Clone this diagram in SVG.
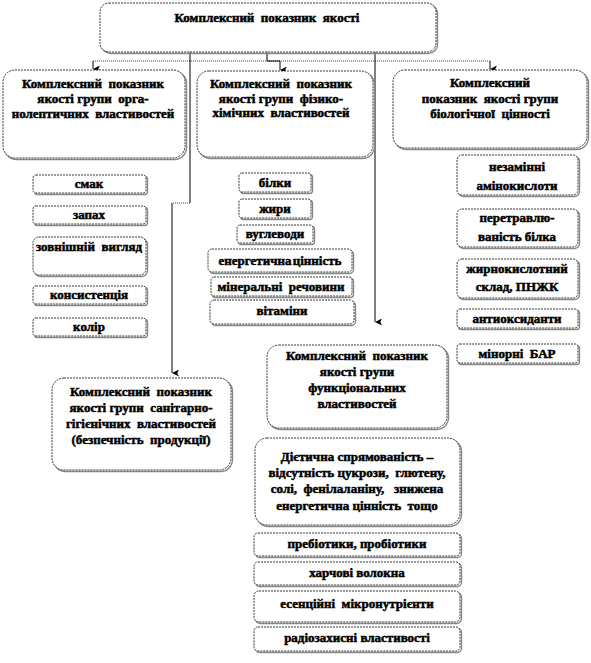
<svg xmlns="http://www.w3.org/2000/svg" width="591" height="663" viewBox="0 0 591 663">
<style>
.bx{fill:#fff;stroke:#222;stroke-width:0.9;stroke-dasharray:2 1}
.sh{fill:none;stroke:#888;stroke-width:1.4}
.t{font-family:"Liberation Serif","DejaVu Serif","Times New Roman",serif;font-weight:700;font-size:13px;fill:#000;stroke:#000;stroke-width:0.5;text-anchor:middle;white-space:pre}
.ln{fill:none;stroke:#000;stroke-width:1}
.dl{fill:none;stroke:#444;stroke-width:1;stroke-dasharray:1 1}
</style>
<defs>
<marker id="ar" viewBox="0 0 8 8" refX="4" refY="8" markerWidth="7" markerHeight="7" orient="auto-start-reverse" markerUnits="userSpaceOnUse">
<path d="M0,0 L4,2 L8,0 L4,8 Z" fill="#000"/>
</marker>
</defs>
<rect width="591" height="663" fill="#fff"/>
<g id="connectors">
<path class="dl" d="M93,61 H490"/>
<path class="ln" d="M93,61 V69" marker-end="url(#ar)"/>
<path class="ln" d="M267,52 V61 H280 V70" marker-end="url(#ar)"/>
<path class="ln" d="M490,61 V69" marker-end="url(#ar)"/>
<path class="ln" d="M190,52 V203"/>
<path class="dl" d="M190,203 H172"/>
<path class="ln" d="M172,203 V373" marker-end="url(#ar)"/>
<path class="ln" d="M375,52 V322" marker-end="url(#ar)"/>
</g>
<g id="main">
<rect class="sh" x="101.5" y="4.5" width="336" height="49" rx="9"/>
<rect class="bx" x="100" y="3" width="336" height="49" rx="9"/>
<text class="t" x="267" y="22">Комплексний  показник  якості</text>
</g>
<g id="organoleptic">
<rect class="sh" x="4.5" y="71.5" width="182" height="88" rx="12"/>
<rect class="bx" x="3" y="70" width="182" height="88" rx="12"/>
<text class="t" x="93" y="88">Комплексний  показник</text>
<text class="t" x="93" y="103">якості групи  орга-</text>
<text class="t" x="93" y="118">нолептичних  властивостей</text>
</g>
<g id="physchem">
<rect class="sh" x="198.5" y="72.5" width="176" height="86" rx="12"/>
<rect class="bx" x="197" y="71" width="176" height="86" rx="12"/>
<text class="t" x="281" y="88">Комплексний  показник</text>
<text class="t" x="281" y="103">якості групи  фізико-</text>
<text class="t" x="281" y="117">хімічних  властивостей</text>
</g>
<g id="biological">
<rect class="sh" x="394.5" y="71.5" width="194" height="78" rx="12"/>
<rect class="bx" x="393" y="70" width="194" height="78" rx="12"/>
<text class="t" x="490" y="87">Комплексний</text>
<text class="t" x="490" y="103">показник  якості групи</text>
<text class="t" x="490" y="118">біологічної  цінності</text>
</g>
<g id="smak"><rect class="sh" x="34.5" y="176.5" width="113" height="18" rx="3"/><rect class="bx" x="33" y="175" width="113" height="18" rx="3"/><text class="t" x="89" y="188">смак</text></g>
<g id="zapakh"><rect class="sh" x="34.5" y="207.5" width="113" height="18" rx="3"/><rect class="bx" x="33" y="206" width="113" height="18" rx="3"/><text class="t" x="89" y="219">запах</text></g>
<g id="vyglyad"><rect class="sh" x="34.5" y="238.5" width="113" height="38" rx="6"/><rect class="bx" x="33" y="237" width="113" height="38" rx="6"/><text class="t" x="89" y="251">зовнішній  вигляд</text></g>
<g id="konsyst"><rect class="sh" x="34.5" y="287.5" width="113" height="18" rx="3"/><rect class="bx" x="33" y="286" width="113" height="18" rx="3"/><text class="t" x="89" y="299">консистенція</text></g>
<g id="kolir"><rect class="sh" x="34.5" y="319.5" width="113" height="18" rx="3"/><rect class="bx" x="33" y="318" width="113" height="18" rx="3"/><text class="t" x="89" y="331">колір</text></g>
<g id="bilky"><rect class="sh" x="240.5" y="174.5" width="72" height="19" rx="3"/><rect class="bx" x="239" y="173" width="72" height="19" rx="3"/><text class="t" x="275" y="187">білки</text></g>
<g id="zhyry"><rect class="sh" x="240.5" y="200.5" width="72" height="19" rx="3"/><rect class="bx" x="239" y="199" width="72" height="19" rx="3"/><text class="t" x="275" y="213">жири</text></g>
<g id="vuglevody"><rect class="sh" x="238.5" y="226.5" width="76" height="18" rx="3"/><rect class="bx" x="237" y="225" width="76" height="18" rx="3"/><text class="t" x="275" y="238">вуглеводи</text></g>
<g id="energ"><rect class="sh" x="209.5" y="250.5" width="144" height="23" rx="4"/><rect class="bx" x="208" y="249" width="144" height="23" rx="4"/><text class="t" x="280" y="265" style="word-spacing:-2px">енергетична цінність</text></g>
<g id="mineral"><rect class="sh" x="212.5" y="278.5" width="141" height="19" rx="3"/><rect class="bx" x="211" y="277" width="141" height="19" rx="3"/><text class="t" x="281" y="291">мінеральні  речовини</text></g>
<g id="vitaminy"><rect class="sh" x="211.5" y="301.5" width="144" height="24" rx="4"/><rect class="bx" x="210" y="300" width="144" height="24" rx="4"/><text class="t" x="282" y="315">вітаміни</text></g>
<g id="aminoacids"><rect class="sh" x="458.5" y="156.5" width="121" height="40" rx="5"/><rect class="bx" x="457" y="155" width="121" height="40" rx="5"/><text class="t" x="517" y="171">незамінні</text><text class="t" x="517" y="190">амінокислоти</text></g>
<g id="digest"><rect class="sh" x="458.5" y="210.5" width="121" height="38" rx="5"/><rect class="bx" x="457" y="209" width="121" height="38" rx="5"/><text class="t" x="517" y="222">перетравлю-</text><text class="t" x="517" y="241">ваність білка</text></g>
<g id="fatty"><rect class="sh" x="458.5" y="260.5" width="121" height="39" rx="5"/><rect class="bx" x="457" y="259" width="121" height="39" rx="5"/><text class="t" x="517" y="273">жирнокислотний</text><text class="t" x="517" y="291">склад, ПНЖК</text></g>
<g id="antiox"><rect class="sh" x="458.5" y="310.5" width="121" height="19" rx="3"/><rect class="bx" x="457" y="309" width="121" height="19" rx="3"/><text class="t" x="517" y="323">антиоксиданти</text></g>
<g id="minor"><rect class="sh" x="458.5" y="345.5" width="121" height="19" rx="3"/><rect class="bx" x="457" y="344" width="121" height="19" rx="3"/><text class="t" x="517" y="358">мінорні  БАР</text></g>
<g id="sanitary">
<rect class="sh" x="53.5" y="379.5" width="179" height="92" rx="12"/>
<rect class="bx" x="52" y="378" width="179" height="92" rx="12"/>
<text class="t" x="141" y="396">Комплексний  показник</text>
<text class="t" x="141" y="412">якості групи  санітарно-</text>
<text class="t" x="141" y="428">гігієнічних  властивостей</text>
<text class="t" x="141" y="444">(безпечність  продукції)</text>
</g>
<g id="functional">
<rect class="sh" x="268.5" y="346.5" width="180" height="83" rx="12"/>
<rect class="bx" x="267" y="345" width="180" height="83" rx="12"/>
<text class="t" x="357" y="360">Комплексний  показник</text>
<text class="t" x="357" y="376">якості групи</text>
<text class="t" x="357" y="392">функціональних</text>
<text class="t" x="357" y="408">властивостей</text>
</g>
<g id="diet">
<rect class="sh" x="256.5" y="439.5" width="205" height="87" rx="12"/>
<rect class="bx" x="255" y="438" width="205" height="87" rx="12"/>
<text class="t" x="357" y="461">Дієтична спрямованість –</text>
<text class="t" x="357" y="477">відсутність цукрози,  глютену,</text>
<text class="t" x="357" y="493">солі,  фенілаланіну,   знижена</text>
<text class="t" x="357" y="510">енергетична цінність  тощо</text>
</g>
<g id="prebiotics"><rect class="sh" x="255.5" y="534.5" width="206" height="23" rx="4"/><rect class="bx" x="254" y="533" width="206" height="23" rx="4"/><text class="t" x="357" y="548">пребіотики, пробіотики</text></g>
<g id="fibers"><rect class="sh" x="255.5" y="563.5" width="206" height="23" rx="4"/><rect class="bx" x="254" y="562" width="206" height="23" rx="4"/><text class="t" x="357" y="577">харчові волокна</text></g>
<g id="essential"><rect class="sh" x="255.5" y="592.5" width="206" height="31" rx="5"/><rect class="bx" x="254" y="591" width="206" height="31" rx="5"/><text class="t" x="357" y="608">есенційні  мікронутрієнти</text></g>
<g id="radio"><rect class="sh" x="255.5" y="628.5" width="206" height="24" rx="4"/><rect class="bx" x="254" y="627" width="206" height="24" rx="4"/><text class="t" x="357" y="642">радіозахисні властивості</text></g>
</svg>
